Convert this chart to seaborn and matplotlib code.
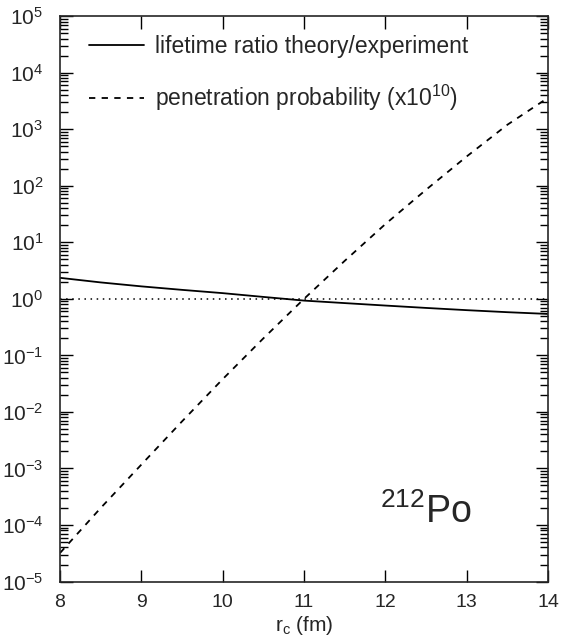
import numpy as np
import pandas as pd
import seaborn as sns
import matplotlib
matplotlib.use('Agg')
import matplotlib.pyplot as plt
from matplotlib.ticker import LogLocator, FixedLocator, NullFormatter

# values
r_c = [8, 8.5, 9, 9.5, 10, 10.5, 11, 11.5, 12, 12.5, 13, 13.5, 14]
lifetime_ratio = [2.35, 1.95, 1.66, 1.44, 1.26, 1.08, 0.93, 0.84, 0.76, 0.69, 0.63, 0.58, 0.54]
penetration = [3.2e-5, 2.0e-4, 1.17e-3, 6.8e-3, 3.8e-2, 2.0e-1, 1.0,
               4.7, 2.1e1, 8.5e1, 3.3e2, 1.2e3, 3.6e3]
x_ticks = [8, 9, 10, 11, 12, 13, 14]

sns.set_style('ticks')
plt.rcParams['font.family'] = ['Liberation Sans', 'DejaVu Sans']
plt.rcParams['mathtext.default'] = 'regular'
plt.rcParams['xtick.direction'] = 'in'
plt.rcParams['ytick.direction'] = 'in'


def make_frame():
    df1 = pd.DataFrame({'r': r_c, 'val': lifetime_ratio,
                        'curve': 'lifetime ratio theory/experiment'})
    df2 = pd.DataFrame({'r': r_c, 'val': penetration,
                        'curve': 'penetration probability (x10$^{10}$)'})
    return pd.concat([df1, df2], ignore_index=True)


def plot_po212(df):
    fig = plt.figure(figsize=(5.61, 6.44), dpi=100)
    ax = fig.add_axes([0.107, 0.097, 0.87, 0.878])
    ax.axhline(1.0, color='black', lw=1.1, ls=(0, (1, 3)))
    sns.lineplot(data=df, x='r', y='val', style='curve', color='black',
                 dashes=['', (3.5, 3.5)], lw=1.3, ax=ax)
    ax.set_yscale('log')
    ax.set_xlim(8, 14)
    ax.set_ylim(1e-5, 1e5)
    ax.xaxis.set_major_locator(FixedLocator(x_ticks))
    ax.yaxis.set_major_locator(LogLocator(base=10, numticks=20))
    ax.yaxis.set_minor_locator(LogLocator(base=10, subs=np.arange(2, 10), numticks=20))
    ax.yaxis.set_minor_formatter(NullFormatter())
    ax.tick_params(axis='both', which='both', top=True, right=True,
                   width=1.0, color='black')
    ax.tick_params(axis='x', which='major', length=9, pad=9, labelsize=14)
    ax.tick_params(axis='y', which='major', length=9, pad=12, labelsize=15)
    ax.tick_params(axis='y', which='minor', length=6)
    for s in ax.spines.values():
        s.set_linewidth(1.2)
    ax.set_xlabel('r$_c$ (fm)', fontsize=15, labelpad=2)
    ax.set_ylabel('')
    leg = ax.legend(loc='upper left', frameon=False, fontsize=16.5,
                    handlelength=2.4, handletextpad=0.5, labelspacing=1.1,
                    borderaxespad=0, borderpad=0,
                    bbox_to_anchor=(0.059, 0.967))
    for h in leg.get_lines():
        h.set_linewidth(1.3)
    ax.text(0.656, 0.104, '$^{212}$Po', transform=ax.transAxes,
            fontsize=27, va='baseline')
    fig.savefig('out.png', dpi=100)
    plt.clf()


def main():
    df = make_frame()
    plot_po212(df)


if __name__ == '__main__':
    main()
